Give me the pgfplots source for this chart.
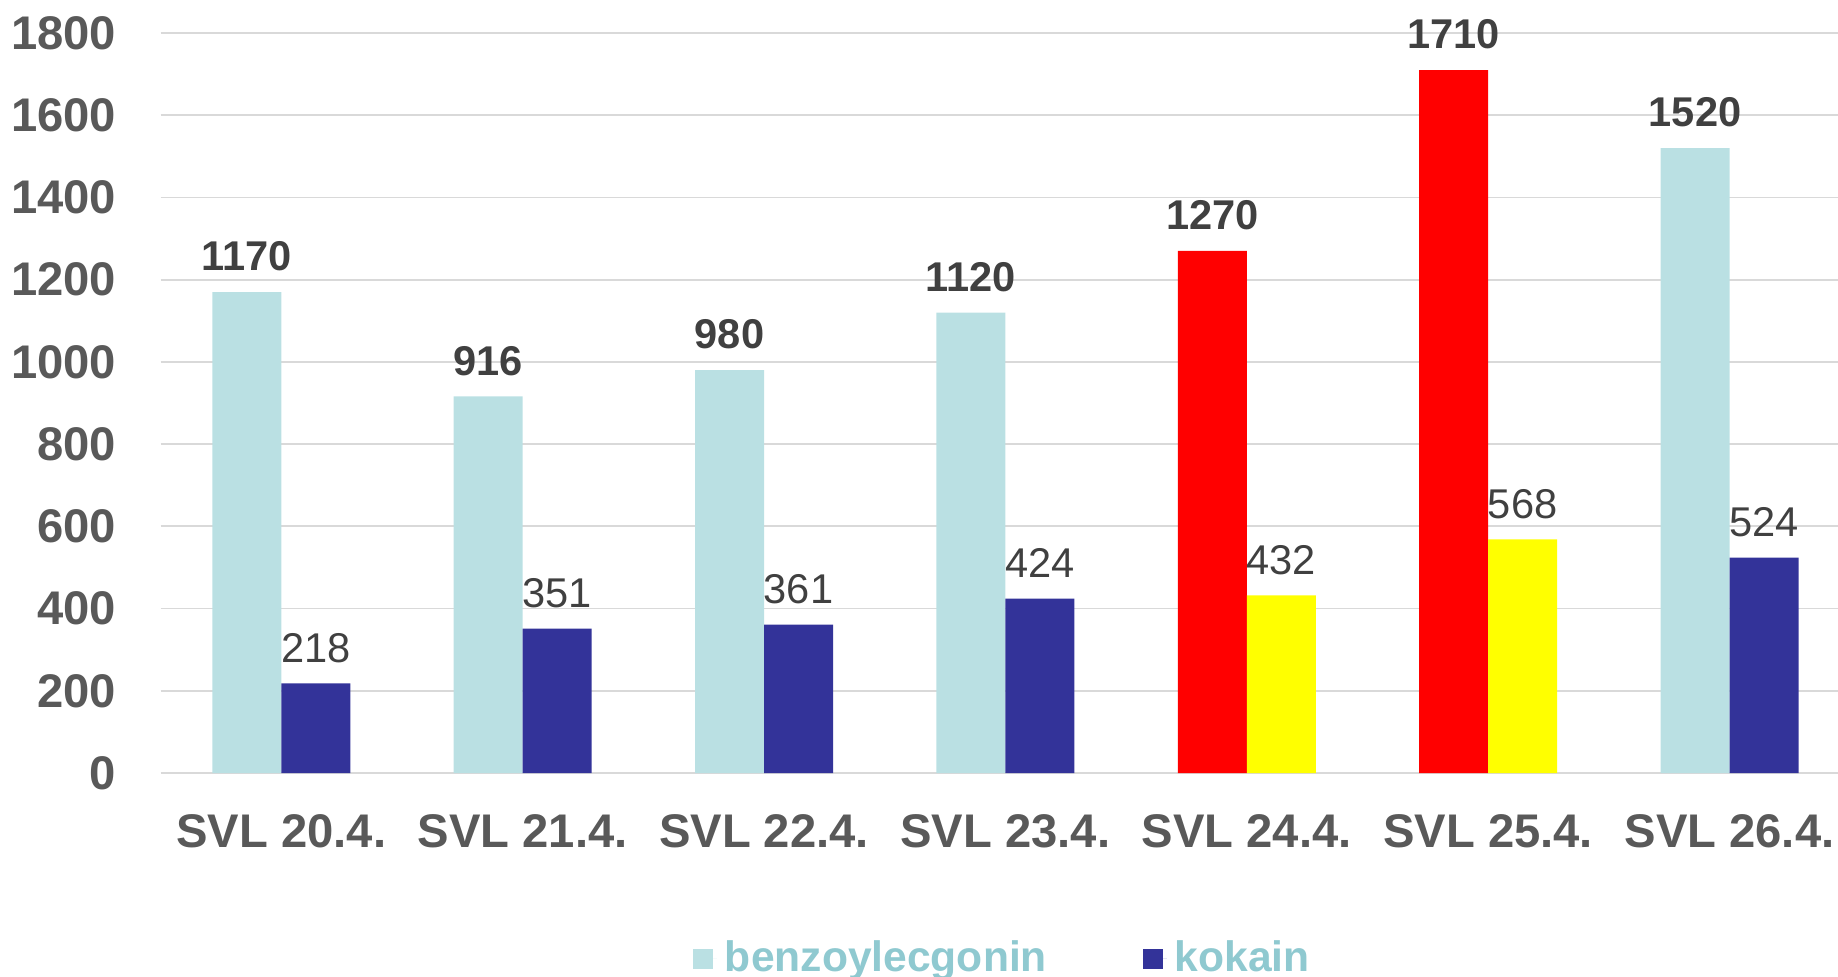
\documentclass[border=0pt]{standalone}
\usepackage{pgfplots}
\pgfplotsset{compat=1.18}
\usepackage{fontspec}
\setmainfont{Liberation Sans}
\definecolor{benz}{RGB}{186,224,227}
\definecolor{koka}{RGB}{51,51,153}
\definecolor{hired}{RGB}{255,0,0}
\definecolor{hiyellow}{RGB}{255,255,0}
\definecolor{legtext}{RGB}{143,201,208}
\definecolor{ticktext}{RGB}{89,89,89}
\definecolor{labtext}{RGB}{64,64,64}
\definecolor{gridc}{RGB}{217,217,217}

\begin{document}
\begin{tikzpicture}
\useasboundingbox (0,0) rectangle (459.5pt,244pt);
\begin{axis}[
    at={(40.15pt,50.75pt)}, anchor=south west,
    scale only axis, width=422.4pt, height=185pt,
    ybar, bar width=17.25pt,
    xmin=-0.5, xmax=6.5, ymin=0, ymax=1800,
    xtick={0,1,2,3,4,5,6},
    xticklabels={SVL 20.4., SVL 21.4., SVL 22.4., SVL 23.4., SVL 24.4., SVL 25.4., SVL 26.4.},
    ytick={0,200,...,1800},
    axis line style={draw=none},
    major tick length=0pt,
    ymajorgrids, grid style={gridc, line width=0.45pt},
    /pgf/number format/assume math mode=true,
    /pgf/number format/1000 sep={},
    tick label style={font=\fontsize{11.8}{14}\selectfont\bfseries, text=ticktext},
    xticklabel style={anchor=base, yshift=-18.6pt},
    yticklabel style={anchor=east, inner sep=0pt, xshift=-10.9pt},
    every node near coord/.append style={anchor=south, inner sep=0pt, yshift=5pt, text=labtext},
    legend style={at={(0.5,-0.251)}, anchor=center, draw=none, fill=none,
        legend columns=2, inner sep=0pt,
        /tikz/every even column/.append style={column sep=22pt},
        font=\fontsize{10.65}{12}\selectfont\bfseries, text=legtext},
    legend image code/.code={\fill[#1] (0pt,-2.5pt) rectangle (5pt,2.5pt);
        \path (0pt,0pt) -- (6pt,0pt);},
    clip=false,
]
% benzoylecgonin
\addplot[fill=benz, draw=none, bar shift=-8.625pt, nodes near coords,
    nodes near coords style={font=\fontsize{10.4}{12}\selectfont\bfseries}] coordinates {
    (0,1170) (1,916) (2,980) (3,1120) (6,1520)
};
\addlegendentry{benzoylecgonin}
% kokain
\addplot[fill=koka, draw=none, bar shift=8.625pt, nodes near coords,
    nodes near coords style={font=\fontsize{10.4}{12}\selectfont}] coordinates {
    (0,218) (1,351) (2,361) (3,424) (6,524)
};
\addlegendentry{kokain}
% highlighted days
\addplot[fill=hired, draw=none, bar shift=-8.625pt, forget plot, nodes near coords,
    nodes near coords style={font=\fontsize{10.4}{12}\selectfont\bfseries}] coordinates {
    (4,1270) (5,1710)
};
\addplot[fill=hiyellow, draw=none, bar shift=8.625pt, forget plot, nodes near coords,
    nodes near coords style={font=\fontsize{10.4}{12}\selectfont}] coordinates {
    (4,432) (5,568)
};
\end{axis}
\end{tikzpicture}
\end{document}
